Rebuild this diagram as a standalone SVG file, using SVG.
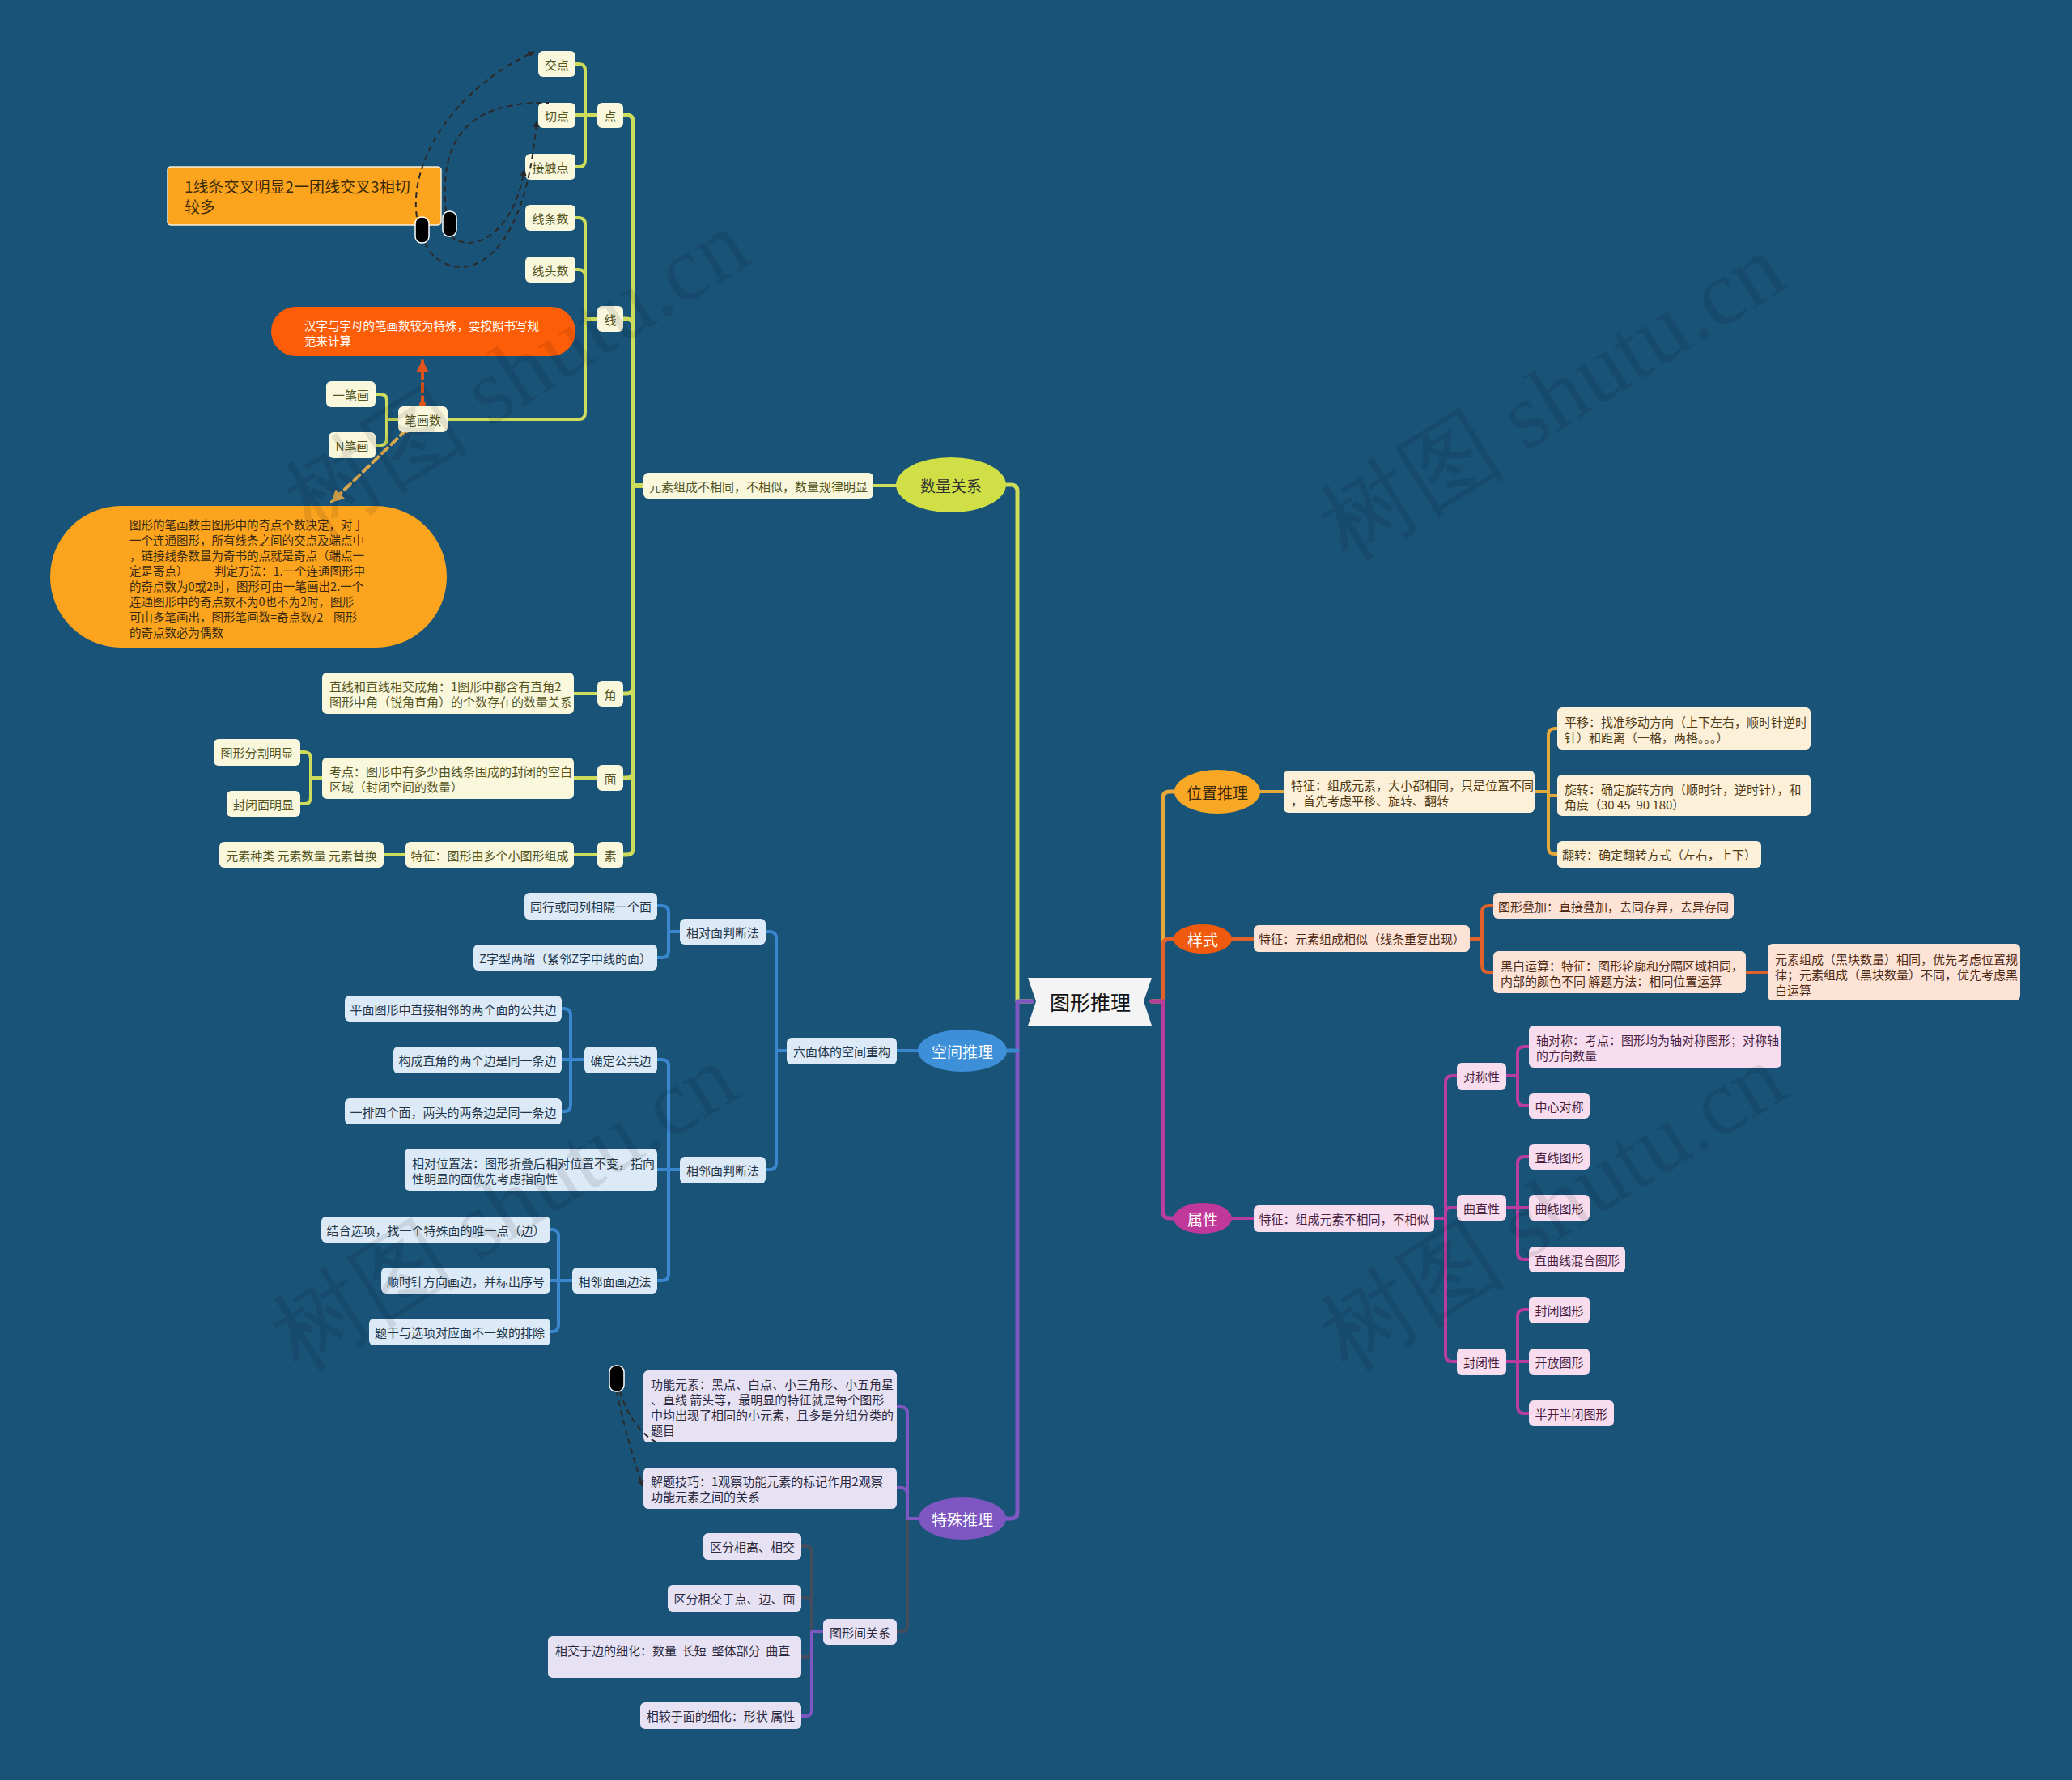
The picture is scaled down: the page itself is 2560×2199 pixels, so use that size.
<svg xmlns="http://www.w3.org/2000/svg" width="2560" height="2199" viewBox="0 0 2560 2199">
<style>
text{font-family:"Noto Sans CJK SC","Noto Sans",sans-serif;font-size:15px;dominant-baseline:central}
.c{text-anchor:middle}
.pre{white-space:pre}
.gn rect{fill:#f9f7dc}.gn text{fill:#55551f}
.bl rect{fill:#dce9f6}.bl text{fill:#22364a}
.pu rect{fill:#e6e2f4}.pu text{fill:#2c2a40}
.go rect{fill:#fdf0d8}.go text{fill:#4f3a14}
.or rect{fill:#fde3d6}.or text{fill:#4f2a14}
.ma rect{fill:#f7ddee}.ma text{fill:#4a1f3f}
.conn path{fill:none;stroke-width:4;stroke-linecap:round;stroke-linejoin:round}
.cg{stroke:#cddc5a}.cb{stroke:#3a87d0}.cp{stroke:#7e57c2}.cd{stroke:#454c5e}.cy{stroke:#e5a83a}.co{stroke:#e2602a}.cm{stroke:#b83d9d}
.dash{fill:none;stroke:#2a2a2a;stroke-width:2;stroke-dasharray:7 5}
rect.mk{fill:#000;stroke:#fff;stroke-width:1.5}
.wm{font-family:"Liberation Serif",serif;font-size:115px;fill:#000;fill-opacity:0.09;dominant-baseline:auto}
.el text{font-size:19px;text-anchor:middle}
</style>
<defs>
<marker id="ar" viewBox="0 0 10 10" refX="9" refY="5" markerWidth="4" markerHeight="4" orient="auto"><path d="M0,0 L10,5 L0,10 z" fill="#2a2a2a"/></marker>
<marker id="aro" viewBox="0 0 10 10" refX="9" refY="5" markerWidth="4" markerHeight="4" orient="auto"><path d="M0,0 L10,5 L0,10 z" fill="#e0531a"/></marker>
<marker id="art" viewBox="0 0 10 10" refX="9" refY="5" markerWidth="4" markerHeight="4" orient="auto"><path d="M0,0 L10,5 L0,10 z" fill="#d8a850"/></marker>
</defs>
<rect width="2560" height="2199" fill="#1a5378"/>

<g id="connectors" class="conn">
<path class="cg" style="stroke-width:5" d="M1243,599 H1249 Q1257,599 1257,607 V1237 H1275"/>
<path class="cg" d="M1079,600 H1107"/>
<path class="cg" style="stroke-width:5" d="M795,600 H782 V150 Q782,142 774,142 H770"/>
<path class="cg" style="stroke-width:5" d="M795,600 H782 V402 Q782,394 774,394 H770"/>
<path class="cg" style="stroke-width:5" d="M795,600 H782 V849 Q782,857 774,857 H770"/>
<path class="cg" style="stroke-width:5" d="M795,600 H782 V953 Q782,961 774,961 H770"/>
<path class="cg" style="stroke-width:5" d="M795,600 H782 V1048 Q782,1056 774,1056 H770"/>
<path class="cg" d="M738,142 H723 V87 Q723,79 715,79 H711"/>
<path class="cg" d="M738,142 H711"/>
<path class="cg" d="M738,142 H723 V198 Q723,206 715,206 H711"/>
<path class="cg" d="M738,394 H723 V277 Q723,269 715,269 H711"/>
<path class="cg" d="M738,394 H723 V341 Q723,333 715,333 H711"/>
<path class="cg" d="M738,394 H723 V510 Q723,518 715,518 H553"/>
<path class="cg" d="M492,518 H478 V495 Q478,487 470,487 H464"/>
<path class="cg" d="M492,518 H478 V542 Q478,550 470,550 H464"/>
<path class="cg" d="M738,857 H709"/>
<path class="cg" d="M738,961 H709"/>
<path class="cg" d="M398,961 H384 V937 Q384,929 376,929 H371"/>
<path class="cg" d="M398,961 H384 V985 Q384,993 376,993 H371"/>
<path class="cg" d="M738,1056 H709"/>
<path class="cg" d="M501,1056 H474"/>

<path class="cp" style="stroke-width:5" d="M1275,1237 H1257 V1868 Q1257,1876 1249,1876 H1243"/>
<path class="cb" style="stroke-width:5" d="M1244,1298 H1257"/>
<path class="cb" d="M1135,1298 H1108"/>
<path class="cb" d="M972,1298 H959 V1159 Q959,1151 951,1151 H946"/>
<path class="cb" d="M972,1298 H959 V1437 Q959,1445 951,1445 H946"/>
<path class="cb" d="M840,1151 H826 V1127 Q826,1119 818,1119 H812"/>
<path class="cb" d="M840,1151 H826 V1175 Q826,1183 818,1183 H812"/>
<path class="cb" d="M840,1445 H826 V1317 Q826,1309 818,1309 H812"/>
<path class="cb" d="M840,1445 H812"/>
<path class="cb" d="M840,1445 H826 V1574 Q826,1582 818,1582 H812"/>
<path class="cb" d="M722,1309 H705 V1254 Q705,1246 697,1246 H694"/>
<path class="cb" d="M722,1309 H694"/>
<path class="cb" d="M722,1309 H705 V1365 Q705,1373 697,1373 H694"/>
<path class="cb" d="M707,1582 H690 V1527 Q690,1519 682,1519 H680"/>
<path class="cb" d="M707,1582 H680"/>
<path class="cb" d="M707,1582 H690 V1637 Q690,1645 682,1645 H680"/>

<path class="cd" d="M1135,1876 H1121 V2008 Q1121,2016 1113,2016 H1108"/>
<path class="cp" d="M1135,1876 H1121 V1746 Q1121,1738 1113,1738 H1108"/>
<path class="cp" d="M1135,1876 H1121 V1846 Q1121,1838 1113,1838 H1108"/>
<path class="cd" d="M1017,2016 H1003 V1918 Q1003,1910 995,1910 H990"/>
<path class="cd" d="M1017,2016 H1003 V1982 Q1003,1974 995,1974 H990"/>
<path class="cd" d="M1017,2016 H1003 V2039 Q1003,2047 995,2047 H990"/>
<path class="cp" d="M1017,2016 H1003 V2112 Q1003,2120 995,2120 H990"/>

<path class="cy" style="stroke-width:5" d="M1423,1237 H1437 V986 Q1437,978 1445,978 H1451"/>
<path class="cy" d="M1557,978 H1586"/>
<path class="cy" d="M1896,978 H1913 V908 Q1913,900 1921,900 H1924"/>
<path class="cy" d="M1896,978 H1913 V983 H1924"/>
<path class="cy" d="M1896,978 H1913 V1047 Q1913,1055 1921,1055 H1924"/>

<path class="co" style="stroke-width:5" d="M1437,1237 V1168 Q1437,1160 1445,1160 H1451"/>
<path class="co" d="M1522,1160 H1549"/>
<path class="co" d="M1816,1160 H1831 V1127 Q1831,1119 1839,1119 H1845"/>
<path class="co" d="M1816,1160 H1831 V1193 Q1831,1201 1839,1201 H1845"/>
<path class="co" d="M2157,1201 H2184"/>

<path class="cm" style="stroke-width:5" d="M1423,1237 H1437 V1497 Q1437,1505 1445,1505 H1451"/>
<path class="cm" d="M1522,1505 H1549"/>
<path class="cm" d="M1772,1505 H1786 V1337 Q1786,1329 1794,1329 H1800"/>
<path class="cm" d="M1772,1505 H1786 V1498 Q1786,1492 1792,1492 H1800"/>
<path class="cm" d="M1772,1505 H1786 V1674 Q1786,1682 1794,1682 H1800"/>
<path class="cm" d="M1861,1329 H1875 V1301 Q1875,1293 1883,1293 H1889"/>
<path class="cm" d="M1861,1329 H1875 V1358 Q1875,1366 1883,1366 H1889"/>
<path class="cm" d="M1861,1492 H1875 V1437 Q1875,1429 1883,1429 H1889"/>
<path class="cm" d="M1861,1492 H1889"/>
<path class="cm" d="M1861,1492 H1875 V1548 Q1875,1556 1883,1556 H1889"/>
<path class="cm" d="M1861,1682 H1875 V1626 Q1875,1618 1883,1618 H1889"/>
<path class="cm" d="M1861,1682 H1889"/>
<path class="cm" d="M1861,1682 H1875 V1738 Q1875,1746 1883,1746 H1889"/>

<path fill="none" stroke="#e0531a" stroke-width="3" stroke-dasharray="10 6" d="M522,500 V446" marker-end="url(#aro)"/>
<circle cx="522" cy="500" r="4" fill="#e0531a"/>
<path fill="none" stroke="#d8a850" stroke-width="3" stroke-dasharray="10 6" d="M502,531 L410,620" marker-end="url(#art)"/>
<circle cx="502" cy="531" r="4" fill="#d8a850"/>
</g>

<g id="root"><polygon points="1270,1208 1423,1208 1413,1237 1423,1267 1270,1267 1280,1237" fill="#f4f4f4"/><text class="c" x="1347" y="1237" style="font-size:25px;fill:#111">图形推理</text></g>

<g class="el">
<g id="n-shuliang"><ellipse cx="1175" cy="599" rx="68" ry="34" fill="#cfdf45"/><text x="1175" y="599" fill="#333">数量关系</text></g>
<g id="n-kongjian"><ellipse cx="1189" cy="1298" rx="55" ry="26" fill="#3d8fd8"/><text x="1189" y="1298" fill="#fff">空间推理</text></g>
<g id="n-teshu"><ellipse cx="1189" cy="1876" rx="54" ry="26" fill="#7d56c1"/><text x="1189" y="1876" fill="#fff">特殊推理</text></g>
<g id="n-weizhi"><ellipse cx="1504" cy="978" rx="53" ry="27" fill="#f9a825"/><text x="1504" y="978" fill="#3a2a10">位置推理</text></g>
<g id="n-yangshi"><ellipse cx="1486" cy="1160" rx="36" ry="18" fill="#f05a0e"/><text x="1486" y="1160" fill="#fff">样式</text></g>
<g id="n-shuxing"><ellipse cx="1486" cy="1505" rx="36" ry="19" fill="#c0399a"/><text x="1486" y="1505" fill="#fff">属性</text></g>
</g>

<g class="gn">
<g id="n-dian"><rect x="738" y="127" width="32" height="31" rx="6"/><text class="c" x="754" y="142.5">点</text></g>
<g id="n-xian"><rect x="738" y="378" width="32" height="32" rx="6"/><text class="c" x="754" y="394">线</text></g>
<g id="n-jiao"><rect x="738" y="841" width="32" height="32" rx="6"/><text class="c" x="754" y="857">角</text></g>
<g id="n-mian"><rect x="738" y="945" width="32" height="32" rx="6"/><text class="c" x="754" y="961">面</text></g>
<g id="n-su"><rect x="738" y="1040" width="32" height="32" rx="6"/><text class="c" x="754" y="1056">素</text></g>
<g id="n-yuansu"><rect x="795" y="584" width="284" height="32" rx="6"/><text class="c" x="937" y="600">元素组成不相同，不相似，数量规律明显</text></g>
<g id="n-jiaodian"><rect x="665" y="63" width="46" height="32" rx="6"/><text class="c" x="688" y="79">交点</text></g>
<g id="n-qiedian"><rect x="665" y="127" width="46" height="31" rx="6"/><text class="c" x="688" y="142.5">切点</text></g>
<g id="n-jiechudian"><rect x="649" y="190" width="62" height="32" rx="6"/><text class="c" x="680" y="206">接触点</text></g>
<g id="n-xiantiaoshu"><rect x="649" y="253" width="62" height="32" rx="6"/><text class="c" x="680" y="269">线条数</text></g>
<g id="n-xiantoushu"><rect x="649" y="317" width="62" height="32" rx="6"/><text class="c" x="680" y="333">线头数</text></g>
<g id="n-bihuashu"><rect x="492" y="502" width="61" height="32" rx="6"/><text class="c" x="522.5" y="518">笔画数</text></g>
<g id="n-yibihua"><rect x="403" y="471" width="61" height="32" rx="6"/><text class="c" x="433.5" y="487">一笔画</text></g>
<g id="n-nbihua"><rect x="406" y="534" width="58" height="32" rx="6"/><text class="c" x="435" y="550">N笔画</text></g>
<g id="n-jiao-c"><rect x="398" y="831" width="311" height="51" rx="6"/><text x="407"><tspan x="407" y="847">直线和直线相交成角：1图形中都含有直角2</tspan><tspan x="407" y="866">图形中角（锐角直角）的个数存在的数量关系</tspan></text></g>
<g id="n-mian-c"><rect x="398" y="936" width="311" height="51" rx="6"/><text x="407"><tspan x="407" y="952">考点：图形中有多少由线条围成的封闭的空白</tspan><tspan x="407" y="971">区域（封闭空间的数量）</tspan></text></g>
<g id="n-fenge"><rect x="264" y="913" width="107" height="33" rx="6"/><text class="c" x="317.5" y="929.5">图形分割明显</text></g>
<g id="n-fengbi"><rect x="280" y="977" width="91" height="32" rx="6"/><text class="c" x="325.5" y="993">封闭面明显</text></g>
<g id="n-su-c"><rect x="501" y="1040" width="208" height="32" rx="6"/><text class="c" x="605" y="1056">特征：图形由多个小图形组成</text></g>
<g id="n-su-cc"><rect x="271" y="1040" width="203" height="32" rx="6"/><text class="c" x="372.5" y="1056">元素种类 元素数量 元素替换</text></g>
</g>

<g id="n-note1"><rect x="207" y="206" width="338" height="72" rx="4" fill="#fca41e" stroke="#f4f0e0" stroke-width="1.5"/><text style="font-size:19px;fill:#3a2a08"><tspan x="228" y="229">1线条交叉明显2一团线交叉3相切</tspan><tspan x="228" y="254">较多</tspan></text></g>
<g id="n-note2"><rect x="335" y="379" width="376" height="61" rx="30.5" fill="#fe5d07"/><text style="font-size:14.5px;fill:#fff"><tspan x="376" y="401">汉字与字母的笔画数较为特殊，要按照书写规</tspan><tspan x="376" y="420">范来计算</tspan></text></g>
<g id="n-note3"><rect x="62" y="625" width="490" height="175" rx="87.5" fill="#fca41e"/><text style="font-size:14.5px;fill:#3a2a10"><tspan x="160" y="647">图形的笔画数由图形中的奇点个数决定，对于</tspan><tspan x="160" y="666">一个连通图形，所有线条之间的交点及端点中</tspan><tspan x="160" y="685">，链接线条数量为奇书的点就是奇点（端点一</tspan><tspan x="160" y="704">定是寄点）</tspan><tspan x="265" y="704">判定方法：1.一个连通图形中</tspan><tspan x="160" y="723">的奇点数为0或2时，图形可由一笔画出2.一个</tspan><tspan x="160" y="742">连通图形中的奇点数不为0也不为2时，图形</tspan><tspan x="160" y="761">可由多笔画出，图形笔画数=奇点数/2</tspan><tspan x="412" y="761">图形</tspan><tspan x="160" y="780">的奇点数必为偶数</tspan></text></g>

<g class="bl">
<g id="n-liumian"><rect x="972" y="1282" width="136" height="33" rx="6"/><text class="c" x="1040" y="1298.5">六面体的空间重构</text></g>
<g id="n-xiangdui"><rect x="840" y="1135" width="106" height="32" rx="6"/><text class="c" x="893" y="1151">相对面判断法</text></g>
<g id="n-xianglin"><rect x="840" y="1429" width="106" height="33" rx="6"/><text class="c" x="893" y="1445.5">相邻面判断法</text></g>
<g id="n-tonghang"><rect x="648" y="1103" width="164" height="33" rx="6"/><text class="c" x="730" y="1119.5">同行或同列相隔一个面</text></g>
<g id="n-zzi"><rect x="585" y="1167" width="227" height="32" rx="6"/><text class="c" x="698.5" y="1183">Z字型两端（紧邻Z字中线的面）</text></g>
<g id="n-gonggong"><rect x="722" y="1293" width="90" height="33" rx="6"/><text class="c" x="767" y="1309.5">确定公共边</text></g>
<g id="n-xiangduiwz"><rect x="500" y="1419" width="312" height="52" rx="6"/><text><tspan x="509" y="1436">相对位置法：图形折叠后相对位置不变，指向</tspan><tspan x="509" y="1455">性明显的面优先考虑指向性</tspan></text></g>
<g id="n-huabian"><rect x="707" y="1566" width="105" height="32" rx="6"/><text class="c" x="759.5" y="1582">相邻面画边法</text></g>
<g id="n-pingmian"><rect x="426" y="1230" width="268" height="32" rx="6"/><text class="c" x="560" y="1246">平面图形中直接相邻的两个面的公共边</text></g>
<g id="n-zhijiao"><rect x="486" y="1293" width="208" height="33" rx="6"/><text class="c" x="590" y="1309.5">构成直角的两个边是同一条边</text></g>
<g id="n-yipai"><rect x="426" y="1357" width="268" height="32" rx="6"/><text class="c" x="560" y="1373">一排四个面，两头的两条边是同一条边</text></g>
<g id="n-jiehe"><rect x="397" y="1503" width="283" height="32" rx="6"/><text class="c" x="538.5" y="1519">结合选项，找一个特殊面的唯一点（边）</text></g>
<g id="n-shunshi"><rect x="471" y="1566" width="209" height="32" rx="6"/><text class="c" x="575.5" y="1582">顺时针方向画边，并标出序号</text></g>
<g id="n-tigan"><rect x="456" y="1629" width="224" height="33" rx="6"/><text class="c" x="568" y="1645.5">题干与选项对应面不一致的排除</text></g>
</g>

<g class="pu">
<g id="n-gongneng"><rect x="795" y="1693" width="313" height="89" rx="6"/><text><tspan x="804" y="1709">功能元素：黑点、白点、小三角形、小五角星</tspan><tspan x="804" y="1728">、直线 箭头等，最明显的特征就是每个图形</tspan><tspan x="804" y="1747">中均出现了相同的小元素，且多是分组分类的</tspan><tspan x="804" y="1766">题目</tspan></text></g>
<g id="n-jieti"><rect x="795" y="1813" width="313" height="51" rx="6"/><text><tspan x="804" y="1829">解题技巧：1观察功能元素的标记作用2观察</tspan><tspan x="804" y="1848">功能元素之间的关系</tspan></text></g>
<g id="n-tuxingjian"><rect x="1017" y="2000" width="91" height="32" rx="6"/><text class="c" x="1062.5" y="2016">图形间关系</text></g>
<g id="n-xiangli"><rect x="869" y="1894" width="121" height="33" rx="6"/><text class="c" x="929.5" y="1910.5">区分相离、相交</text></g>
<g id="n-xiangjiao"><rect x="825" y="1958" width="165" height="33" rx="6"/><text class="c" x="907.5" y="1974.5">区分相交于点、边、面</text></g>
<g id="n-bian"><rect x="677" y="2021" width="313" height="52" rx="6"/><text class="pre" x="686" y="2038">相交于边的细化：数量  长短  整体部分  曲直</text></g>
<g id="n-mianxh"><rect x="791" y="2103" width="199" height="33" rx="6"/><text class="c" x="890.5" y="2119.5">相较于面的细化：形状 属性</text></g>
</g>

<g id="go-branch" class="go">
<g id="n-wz-tz"><rect x="1586" y="952" width="310" height="52" rx="6"/><text><tspan x="1595" y="969">特征：组成元素，大小都相同，只是位置不同</tspan><tspan x="1595" y="988">，首先考虑平移、旋转、翻转</tspan></text></g>
<g id="n-pingyi"><rect x="1924" y="874" width="313" height="52" rx="6"/><text><tspan x="1933" y="891">平移：找准移动方向（上下左右，顺时针逆时</tspan><tspan x="1933" y="910">针）和距离（一格，两格。。。）</tspan></text></g>
<g id="n-xuanzhuan"><rect x="1924" y="957" width="313" height="51" rx="6"/><text><tspan x="1933" y="974">旋转：确定旋转方向（顺时针，逆时针），和</tspan><tspan class="pre" x="1933" y="993">角度（30 45  90 180）</tspan></text></g>
<g id="n-fanzhuan"><rect x="1924" y="1039" width="252" height="33" rx="6"/><text class="c" x="2050" y="1055.5">翻转：确定翻转方式（左右，上下）</text></g>
</g>

<g class="or">
<g id="n-ys-tz"><rect x="1549" y="1143" width="267" height="33" rx="6"/><text class="c" x="1682.5" y="1159.5">特征：元素组成相似（线条重复出现）</text></g>
<g id="n-diejia"><rect x="1845" y="1103" width="297" height="32" rx="6"/><text class="c" x="1993.5" y="1119">图形叠加：直接叠加，去同存异，去异存同</text></g>
<g id="n-heibai"><rect x="1845" y="1175" width="312" height="52" rx="6"/><text><tspan x="1854" y="1192">黑白运算：特征：图形轮廓和分隔区域相同，</tspan><tspan x="1854" y="1211">内部的颜色不同 解题方法：相同位置运算</tspan></text></g>
<g id="n-heikuai"><rect x="2184" y="1166" width="312" height="70" rx="6"/><text><tspan x="2193" y="1184">元素组成（黑块数量）相同，优先考虑位置规</tspan><tspan x="2193" y="1203">律；元素组成（黑块数量）不同，优先考虑黑</tspan><tspan x="2193" y="1222">白运算</tspan></text></g>
</g>

<g class="ma">
<g id="n-sx-tz"><rect x="1549" y="1489" width="223" height="33" rx="6"/><text class="c" x="1660.5" y="1505.5">特征：组成元素不相同，不相似</text></g>
<g id="n-duichen"><rect x="1800" y="1313" width="61" height="33" rx="6"/><text class="c" x="1830.5" y="1329.5">对称性</text></g>
<g id="n-quzhi"><rect x="1800" y="1476" width="61" height="32" rx="6"/><text class="c" x="1830.5" y="1492">曲直性</text></g>
<g id="n-fengbixing"><rect x="1800" y="1666" width="61" height="33" rx="6"/><text class="c" x="1830.5" y="1682.5">封闭性</text></g>
<g id="n-zhou"><rect x="1889" y="1267" width="312" height="52" rx="6"/><text><tspan x="1898" y="1284">轴对称：考点：图形均为轴对称图形；对称轴</tspan><tspan x="1898" y="1303">的方向数量</tspan></text></g>
<g id="n-zhongxin"><rect x="1889" y="1350" width="75" height="32" rx="6"/><text class="c" x="1926.5" y="1366">中心对称</text></g>
<g id="n-zhixian"><rect x="1889" y="1413" width="75" height="32" rx="6"/><text class="c" x="1926.5" y="1429">直线图形</text></g>
<g id="n-quxian"><rect x="1889" y="1476" width="75" height="32" rx="6"/><text class="c" x="1926.5" y="1492">曲线图形</text></g>
<g id="n-hunhe"><rect x="1889" y="1540" width="119" height="32" rx="6"/><text class="c" x="1948.5" y="1556">直曲线混合图形</text></g>
<g id="n-fengbitx"><rect x="1889" y="1602" width="75" height="33" rx="6"/><text class="c" x="1926.5" y="1618.5">封闭图形</text></g>
<g id="n-kaifang"><rect x="1889" y="1666" width="75" height="33" rx="6"/><text class="c" x="1926.5" y="1682.5">开放图形</text></g>
<g id="n-banbi"><rect x="1889" y="1730" width="105" height="32" rx="6"/><text class="c" x="1941.5" y="1746">半开半闭图形</text></g>
</g>

<g id="associations">
<path class="dash" d="M515,268 C505,200 560,110 660,64" marker-end="url(#ar)"/>
<path class="dash" d="M551,261 C543,180 570,125 678,127"/>
<path class="dash" d="M557,291 C575,312 632,300 648,210" marker-end="url(#ar)"/>
<path class="dash" d="M525,300 C545,348 645,362 663,150" marker-end="url(#ar)"/>
<path class="dash" d="M766,1719 C775,1750 795,1775 812,1782"/>
<path class="dash" d="M762,1719 C770,1760 785,1810 794,1836" marker-end="url(#ar)"/>
</g>
<g id="n-mark1"><rect class="mk" x="513" y="268" width="17" height="32" rx="8"/></g>
<g id="n-mark2"><rect class="mk" x="547" y="261" width="17" height="31" rx="8"/></g>
<g id="n-mark3"><rect class="mk" x="753" y="1687" width="18" height="32" rx="8"/></g>

<g id="watermarks">
<text class="wm" transform="translate(385,665) rotate(-32)">树图 shutu.cn</text>
<text class="wm" transform="translate(1665,695) rotate(-32)">树图 shutu.cn</text>
<text class="wm" transform="translate(370,1695) rotate(-32)">树图 shutu.cn</text>
<text class="wm" transform="translate(1665,1695) rotate(-32)">树图 shutu.cn</text>
</g>
</svg>
